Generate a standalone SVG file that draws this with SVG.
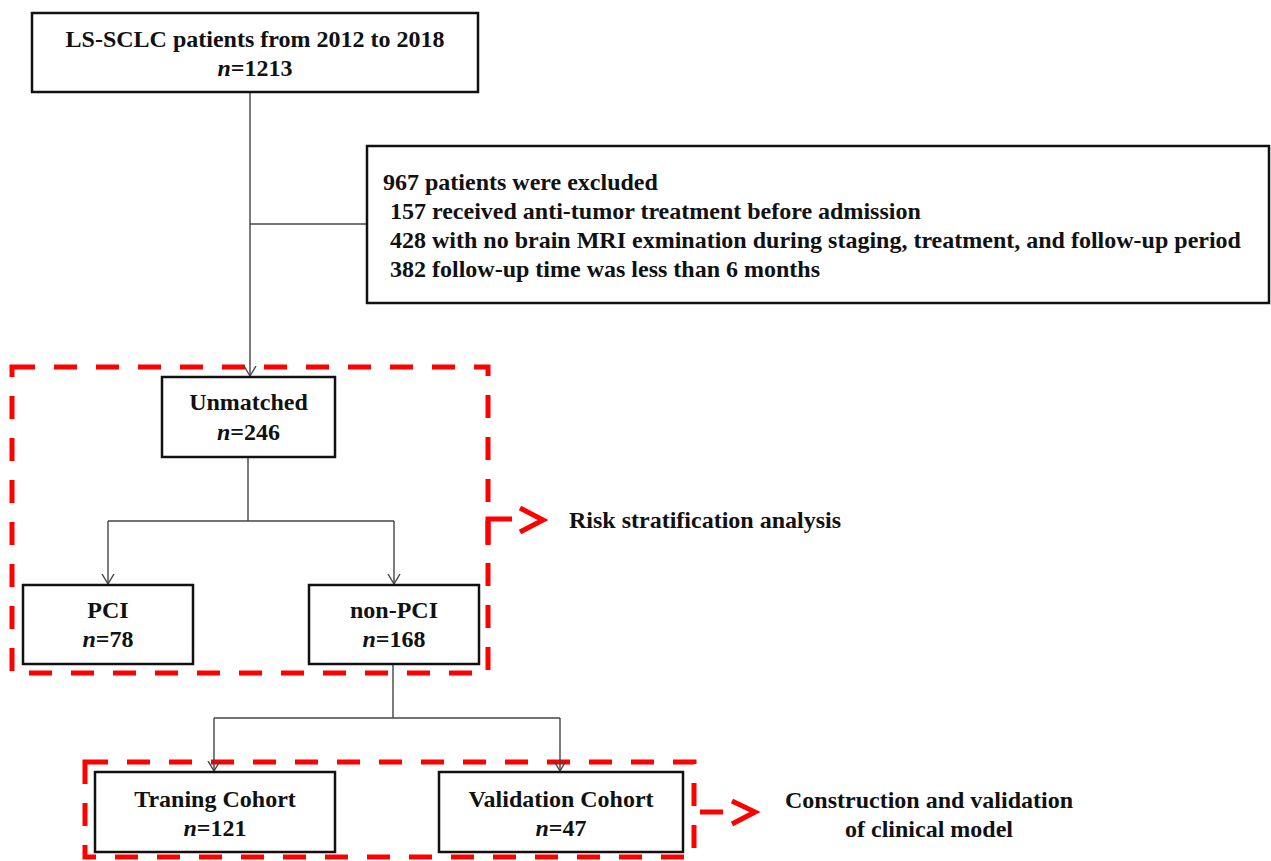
<svg xmlns="http://www.w3.org/2000/svg" width="1271" height="861" viewBox="0 0 1271 861">
<defs>
<style>
.box{fill:#fff;stroke:#111;stroke-width:2.5}
.t{font-family:"Liberation Serif","Times New Roman",serif;font-weight:bold;font-size:24px;fill:#111}
.c{text-anchor:middle}
.conn{fill:none;stroke:#444;stroke-width:1.4}
.red{fill:none;stroke:#ff0000;stroke-width:5}
.dash{stroke-dasharray:23 19}
</style>
<marker id="arr" markerWidth="12" markerHeight="14" refX="10" refY="7" orient="auto" markerUnits="userSpaceOnUse">
<path d="M0,1 L10,7 L0,13" fill="none" stroke="#444" stroke-width="1.4"/>
</marker>
</defs>
<rect width="1271" height="861" fill="#fff"/>

<g id="groups">
<rect class="red dash" x="12" y="367" width="476" height="306"/>
<rect class="red dash" x="85" y="762" width="609" height="95"/>
<path class="red" d="M488,545 V519 H512"/>
<path class="red" d="M520,508 L543,520 L520,532"/>
<path class="red" d="M700,812 H723"/>
<path class="red" d="M732,801 L755,812 L732,824"/>
</g>

<g id="connectors">
<path class="conn" d="M250,92 V376" marker-end="url(#arr)"/>
<path class="conn" d="M250,224 H367"/>
<path class="conn" d="M248,457 V521"/>
<path class="conn" d="M108,521 H394"/>
<path class="conn" d="M108,521 V584" marker-end="url(#arr)"/>
<path class="conn" d="M394,521 V584" marker-end="url(#arr)"/>
<path class="conn" d="M393,664 V718"/>
<path class="conn" d="M214,718 H560"/>
<path class="conn" d="M214,718 V771" marker-end="url(#arr)"/>
<path class="conn" d="M560,718 V771" marker-end="url(#arr)"/>
</g>

<g id="node-start">
<rect class="box" x="32" y="13" width="446" height="79"/>
<text class="t c" x="255" y="47">LS-SCLC patients from 2012 to 2018</text>
<text class="t c" x="255" y="76"><tspan font-style="italic">n</tspan>=1213</text>
</g>

<g id="node-excluded">
<rect class="box" x="367" y="146" width="902" height="157"/>
<text class="t" x="383" y="190">967 patients were excluded</text>
<text class="t" x="390" y="219">157 received anti-tumor treatment before admission</text>
<text class="t" x="390" y="248">428 with no brain MRI exmination during staging, treatment, and follow-up period</text>
<text class="t" x="390" y="277">382 follow-up time was less than 6 months</text>
</g>

<g id="node-unmatched">
<rect class="box" x="162" y="377" width="173" height="80"/>
<text class="t c" x="248.5" y="410">Unmatched</text>
<text class="t c" x="248.5" y="440"><tspan font-style="italic">n</tspan>=246</text>
</g>

<g id="node-pci">
<rect class="box" x="23" y="585" width="170" height="79"/>
<text class="t c" x="108" y="618">PCI</text>
<text class="t c" x="108" y="647"><tspan font-style="italic">n</tspan>=78</text>
</g>

<g id="node-nonpci">
<rect class="box" x="309" y="585" width="170" height="79"/>
<text class="t c" x="394" y="618">non-PCI</text>
<text class="t c" x="394" y="647"><tspan font-style="italic">n</tspan>=168</text>
</g>

<g id="node-training">
<rect class="box" x="95" y="772" width="240" height="80"/>
<text class="t c" x="215" y="807">Traning Cohort</text>
<text class="t c" x="215" y="836"><tspan font-style="italic">n</tspan>=121</text>
</g>

<g id="node-validation">
<rect class="box" x="439" y="772" width="244" height="80"/>
<text class="t c" x="561" y="807">Validation Cohort</text>
<text class="t c" x="561" y="836"><tspan font-style="italic">n</tspan>=47</text>
</g>

<g id="labels">
<text class="t" x="569" y="528">Risk stratification analysis</text>
<text class="t c" x="929" y="808">Construction and validation</text>
<text class="t c" x="929" y="837">of clinical model</text>
</g>
</svg>
